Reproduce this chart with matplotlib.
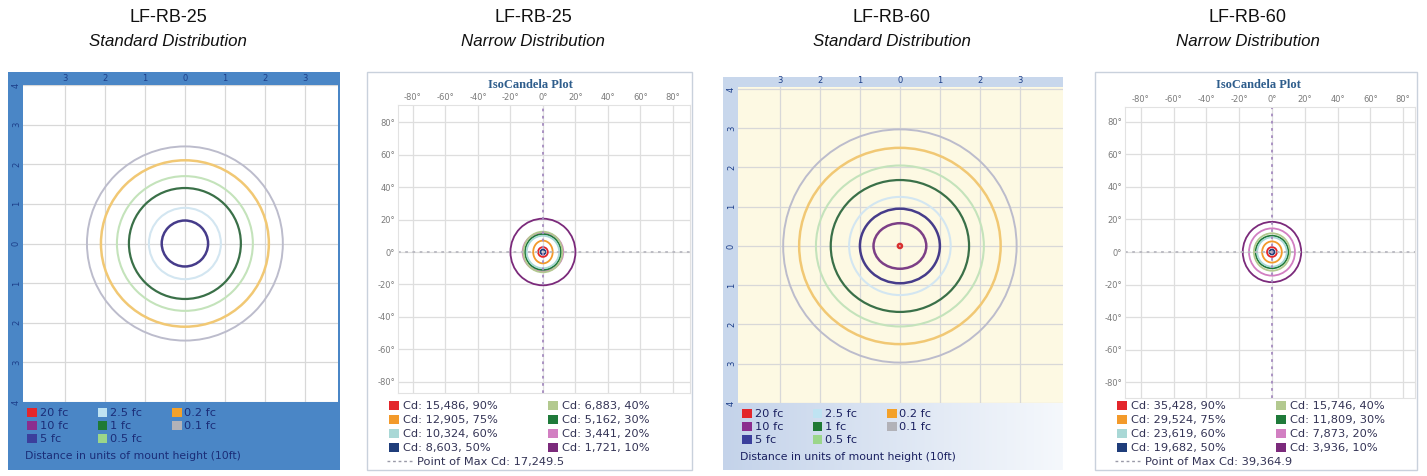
import matplotlib
matplotlib.use('Agg')
import matplotlib.pyplot as plt
from matplotlib.patches import Rectangle, Ellipse, Patch
from matplotlib.lines import Line2D
import numpy as np

W, H = 1427, 476

# ---------------- datos ----------------
titles = ['LF-RB-25', 'LF-RB-25', 'LF-RB-60', 'LF-RB-60']
subtitles = ['Standard Distribution', 'Narrow Distribution',
             'Standard Distribution', 'Narrow Distribution']

# paneles "standard": curvas iso-fc (distancia en alturas de montaje)
fc_labels = ['20 fc', '10 fc', '5 fc', '2.5 fc', '1 fc', '0.5 fc', '0.2 fc', '0.1 fc']
fc_colors = ['#e3262b', '#8b2d8e', '#3b3f9c', '#bfe3f2', '#1f7a35', '#9bd68a', '#f3a12a', '#b2b2b8']
fc_line_colors = ['#d9302f', '#7c3f86', '#463c8a', '#d3e6f1', '#3a7048', '#c4e3bb', '#f1c874', '#bcbccc']
fc_line_widths = [3.0, 1.8, 1.8, 1.5, 1.6, 1.5, 1.8, 1.4]

rb25_std_rx = [None, None, 0.58, 0.90, 1.40, 1.70, 2.10, 2.45]
rb25_std_ry = [None, None, 0.58, 0.90, 1.40, 1.70, 2.10, 2.45]
rb60_std_rx = [0.03, 0.66, 1.00, 1.27, 1.73, 2.10, 2.52, 2.92]
rb60_std_ry = [0.03, 0.58, 0.95, 1.25, 1.68, 2.05, 2.50, 2.97]

# paneles "narrow": isocandela (grados)
cd_pct = [90, 75, 60, 50, 40, 30, 20, 10]
cd_colors = ['#e3262b', '#f39a2b', '#a9d8d6', '#1f3d7a', '#b3c98f', '#1f7a3a', '#d27fc2', '#7b2a7b']
rb25_nar_cd = ['15,486', '12,905', '10,324', '8,603', '6,883', '5,162', '3,441', '1,721']
rb25_nar_max = '17,249.5'
rb25_nar_rx = [3, 6, 10, 1.5, 12, 11, 12.5, 20]
rb25_nar_ry = [3, 7, 10, 1.5, 12.5, 11, 12, 20.5]
rb60_nar_cd = ['35,428', '29,524', '23,619', '19,682', '15,746', '11,809', '7,873', '3,936']
rb60_nar_max = '39,364.9'
rb60_nar_rx = [3, 6, 9, 1.5, 11, 10, 14, 17.8]
rb60_nar_ry = [3, 6.5, 9, 1.5, 11.5, 10, 14.5, 18.5]

fig = plt.figure(figsize=(W / 100, H / 100), dpi=100)
fig.patch.set_facecolor('white')


def fx(x):
    return x / W


def fy(y):
    return 1 - y / H


def px_axes(x0, y0, x1, y1, **kw):
    return fig.add_axes([fx(x0), fy(y1), (x1 - x0) / W, (y1 - y0) / H], **kw)


# titulos de cada panel
for cx, t, s in zip([168, 533, 892, 1248], titles, subtitles):
    fig.text(fx(cx), fy(17), t, ha='center', va='center', fontsize=13,
             family='Liberation Sans', color='#111111')
    fig.text(fx(cx), fy(41), s, ha='center', va='center', fontsize=12.2,
             family='Liberation Sans', style='italic', color='#111111')


def standard_panel(box, plot, xlim, ylim, frame_color, plot_bg, rx, ry,
                   label_color, text_color, gradient=False):
    x0, y0, x1, y1 = box
    fig.patches.append(Rectangle((fx(x0), fy(y1)), (x1 - x0) / W, (y1 - y0) / H,
                                 transform=fig.transFigure, facecolor=frame_color,
                                 edgecolor='none', zorder=-5))
    if gradient:
        # fondo degradado de la zona de leyenda
        gax = px_axes(x0, plot[3], x1, y1)
        grad = np.linspace(0, 1, 200).reshape(1, -1)
        cmap = matplotlib.colors.LinearSegmentedColormap.from_list('g', ['#c4d3ea', '#f5f8fc'])
        gax.imshow(grad, aspect='auto', cmap=cmap, extent=[0, 1, 0, 1])
        gax.axis('off')
    ax = px_axes(*plot)
    ax.set_facecolor(plot_bg)
    ax.set_xlim(*xlim)
    ax.set_ylim(*ylim)
    ax.set_xticks(range(-3, 4))
    ax.set_xticklabels([str(abs(v)) for v in range(-3, 4)])
    ax.set_yticks(range(-4, 5))
    ax.set_yticklabels([str(abs(v)) for v in range(-4, 5)], rotation=90, va='center')
    ax.xaxis.tick_top()
    ax.tick_params(length=0, labelsize=6, colors=label_color, pad=1.5)
    ax.grid(True, color='#d8d8d8', lw=0.9)
    ax.set_axisbelow(True)
    for sp in ax.spines.values():
        sp.set_visible(False)
    for i in range(len(fc_labels) - 1, -1, -1):
        if rx[i] is None:
            continue
        ax.add_patch(Ellipse((0, 0), 2 * rx[i], 2 * ry[i], fill=False,
                             edgecolor=fc_line_colors[i], lw=fc_line_widths[i]))
    handles = [Patch(facecolor=c, edgecolor='none') for c in fc_colors]
    fig.legend(handles, fc_labels, ncol=3, loc='upper left',
               bbox_to_anchor=(fx(x0 + 19), fy(plot[3] + 6)), frameon=False,
               fontsize=8.2, handlelength=0.85, handleheight=0.85, handletextpad=0.25,
               columnspacing=2.6, labelspacing=0.2, borderpad=0, borderaxespad=0,
               labelcolor=text_color)
    fig.text(fx(x0 + 17), fy(plot[3] + 54), 'Distance in units of mount height (10ft)',
             fontsize=7.8, color=text_color, va='center', ha='left')
    return ax


def narrow_panel(box, plot, xlim, ylim, title_x, cds, cd_max, rx, ry):
    x0, y0, x1, y1 = box
    fig.patches.append(Rectangle((fx(x0), fy(y1)), (x1 - x0) / W, (y1 - y0) / H,
                                 transform=fig.transFigure, facecolor='white',
                                 edgecolor='#c9d1dc', lw=1.0, zorder=-5))
    ax = px_axes(*plot)
    ax.set_xlim(*xlim)
    ax.set_ylim(*ylim)
    ticks = list(range(-80, 81, 20))
    ax.set_xticks(ticks)
    ax.set_xticklabels([f'{v}°' for v in ticks])
    ax.set_yticks(ticks)
    ax.set_yticklabels([f'{v}°' for v in ticks])
    ax.xaxis.tick_top()
    ax.tick_params(length=0, labelsize=6, colors='#7a7a7a', pad=2)
    ax.grid(True, color='#dedede', lw=0.9)
    ax.set_axisbelow(True)
    for sp in ax.spines.values():
        sp.set_color('#e2e2e2')
    ax.axvline(0, ls=(0, (1.5, 2.5)), color='#a58bbf', lw=1.3)
    ax.axhline(0, ls=(0, (1.5, 2.5)), color='#b8b8c0', lw=1.3)
    for i in range(len(cd_pct) - 1, -1, -1):
        ax.add_patch(Ellipse((0, 0), 2 * rx[i], 2 * ry[i], fill=False,
                             edgecolor=cd_colors[i], lw=1.3))
    fig.text(fx(title_x), fy(85), 'IsoCandela Plot', ha='center', va='center',
             family='Liberation Serif', fontweight='bold', fontsize=9, color='#2e5d8c')
    handles = [Patch(facecolor=c, edgecolor='none') for c in cd_colors]
    labels = [f'Cd: {c}, {p}%' for c, p in zip(cds, cd_pct)]
    fig.legend(handles, labels, ncol=2, loc='upper left',
               bbox_to_anchor=(fx(x0 + 22), fy(401)), frameon=False,
               fontsize=8.2, handlelength=0.85, handleheight=0.85, handletextpad=0.4,
               columnspacing=4.4, labelspacing=0.3, borderpad=0, borderaxespad=0,
               labelcolor='#333355')
    fig.legend([Line2D([], [], ls=(0, (2, 2)), color='#9a9aa8', lw=1)],
               [f'Point of Max Cd: {cd_max}'], loc='center left',
               bbox_to_anchor=(fx(x0 + 20), fy(462)), frameon=False, fontsize=8.2,
               handlelength=2.2, handletextpad=0.4, borderpad=0, borderaxespad=0,
               labelcolor='#333355')
    return ax


standard_panel((8, 72, 340, 470), (23, 85, 338, 402), (-4.05, 3.83), (-4.0, 4.0),
               '#4a86c6', 'white', rb25_std_rx, rb25_std_ry, '#1d3f8a', '#1b2d78')
narrow_panel((367, 72, 692, 470), (398, 105, 690, 393), (-89.2, 90.5), (-86.8, 90.5),
             530, rb25_nar_cd, rb25_nar_max, rb25_nar_rx, rb25_nar_ry)
standard_panel((723, 77, 1063, 470), (738, 87, 1063, 403), (-4.05, 4.08), (-3.95, 4.05),
               '#c8d7ec', '#fdf9e3', rb60_std_rx, rb60_std_ry, '#1d3f8a', '#1a2060',
               gradient=True)
narrow_panel((1095, 72, 1417, 470), (1125, 107, 1415, 398), (-89.6, 87.2), (-89.6, 89.0),
             1258, rb60_nar_cd, rb60_nar_max, rb60_nar_rx, rb60_nar_ry)

fig.savefig('out.png', dpi=100)
